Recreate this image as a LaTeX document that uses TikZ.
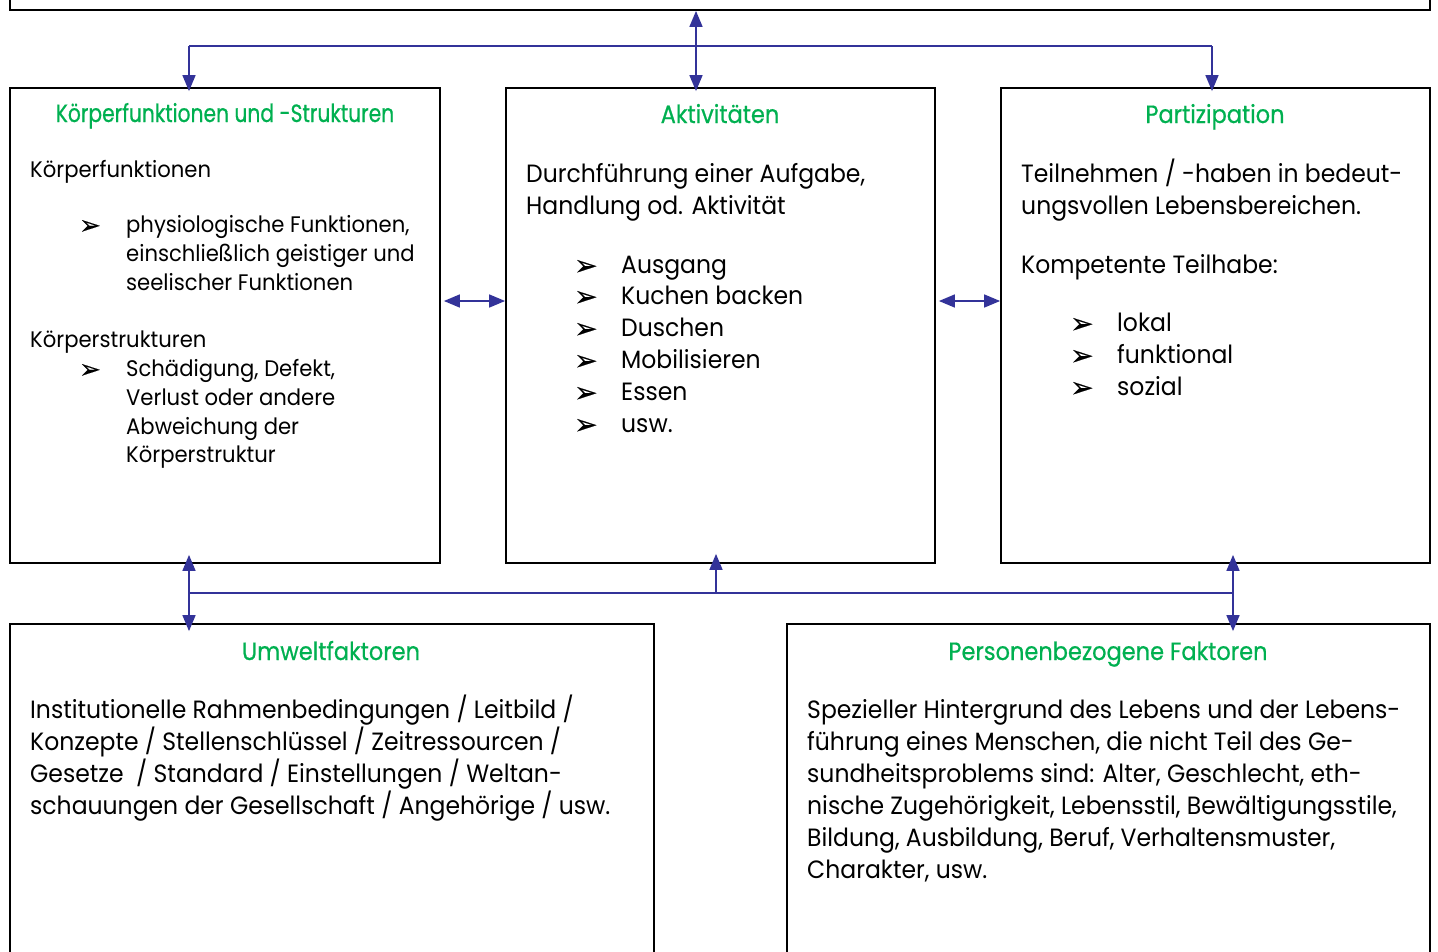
\documentclass[tikz,border=0pt]{standalone}
\usepackage{fontspec}
\setmainfont[FakeStretch=0.94]{Poppins}
\newfontfamily\ttlfont[FakeStretch=0.90,FakeBold=0.6]{Poppins}
\newfontfamily\ttlfontc[FakeStretch=0.81,FakeBold=0.6]{Poppins}
\newfontfamily\bulfont[FakeBold=0.5]{DejaVu Sans}
\usetikzlibrary{arrows.meta}
\definecolor{ttl}{RGB}{0,176,80}
\definecolor{conn}{RGB}{51,51,153}
\begin{document}
\begin{tikzpicture}[x=1pt,y=-1pt,
  box/.style={draw=black,line width=1.8pt,inner sep=0pt,fill=none},
  ttlt/.style={anchor=base,inner sep=0pt,text=ttl,font=\ttlfont\fontsize{25}{30}\selectfont},
  bodyL/.style={anchor=base west,inner sep=0pt,font=\fontsize{22.5}{27}\selectfont},
  bodyM/.style={anchor=base west,inner sep=0pt,font=\fontsize{25}{30}\selectfont},
  bulL/.style={anchor=base west,inner sep=0pt,font=\bulfont\fontsize{26}{30}\selectfont},
  bulM/.style={anchor=base west,inner sep=0pt,font=\bulfont\fontsize{28}{32}\selectfont},
  link/.style={draw=conn,line width=1.6pt},
  tip/.style={-{Triangle[length=16pt,width=13pt]}},
  tips/.style={{Triangle[length=16pt,width=13pt]}-{Triangle[length=16pt,width=13pt]}}]
\useasboundingbox (0,0) rectangle (1438,951);
\begin{scope}
\clip (0,0) rectangle (1438,951);
% boxes
\node[box,minimum width=1420pt,minimum height=40pt] (top) at (720,-10) {};
\node[box,minimum width=430pt,minimum height=475pt] (kb) at (225,325.5) {};
\node[box,minimum width=429pt,minimum height=475pt] (akt) at (720.5,325.5) {};
\node[box,minimum width=429pt,minimum height=475pt] (part) at (1215.5,325.5) {};
\node[box,minimum width=644pt,minimum height=356pt] (umw) at (332,802) {};
\node[box,minimum width=643pt,minimum height=356pt] (pers) at (1108.5,802) {};
\end{scope}
% left box text
\node[ttlt,font=\ttlfontc\fontsize{25}{30}\selectfont] (t1) at (225,122) {Körperfunktionen und -Strukturen};
\node[bodyL] (l1) at (30,177) {Körperfunktionen};
\node[bulL] (lb1) at (79,234) {➢};
\node[bodyL] (l2) at (126,232) {physiologische Funktionen,};
\node[bodyL] (l3) at (126,261) {einschließlich geistiger und};
\node[bodyL] (l4) at (126,290) {seelischer Funktionen};
\node[bodyL] (l5) at (30,347) {Körperstrukturen};
\node[bulL] (lb2) at (79,378) {➢};
\node[bodyL] (l6) at (126,376) {Schädigung, Defekt,};
\node[bodyL] (l7) at (126,405) {Verlust oder andere};
\node[bodyL] (l8) at (126,434) {Abweichung der};
\node[bodyL] (l9) at (126,462) {Körperstruktur};
% middle box text
\node[ttlt] (t2) at (720,123) {Aktivitäten};
\node[bodyM] (m1) at (526,182) {Durchführung einer Aufgabe,};
\node[bodyM] (m2) at (526,214) {Handlung od. Aktivität};
\foreach \y/\t [count=\i] in {273/Ausgang,304/Kuchen backen,336/Duschen,368/Mobilisieren,400/Essen,432/usw.}{
  \node[bulM] (mb\i) at (574,\y+2) {➢};
  \node[bodyM] (mi\i) at (621,\y) {\t};
}
% right box text
\node[ttlt] (t3) at (1215,123) {Partizipation};
\node[bodyM] (r1) at (1021,182) {Teilnehmen / -haben in bedeut-};
\node[bodyM] (r2) at (1021,214) {ungsvollen Lebensbereichen.};
\node[bodyM] (r3) at (1021,273) {Kompetente Teilhabe:};
\foreach \y/\t [count=\i] in {331/lokal,363/funktional,395/sozial}{
  \node[bulM] (rb\i) at (1070,\y+2) {➢};
  \node[bodyM] (ri\i) at (1117,\y) {\t};
}
% bottom left
\node[ttlt] (t4) at (331,660) {Umweltfaktoren};
\node[bodyM] (u1) at (30,718) {Institutionelle Rahmenbedingungen / Leitbild /};
\node[bodyM] (u2) at (30,750) {Konzepte / Stellenschlüssel / Zeitressourcen /};
\node[bodyM] (u3) at (30,782) {Gesetze \ / Standard / Einstellungen / Weltan-};
\node[bodyM] (u4) at (30,814) {schauungen der Gesellschaft / Angehörige / usw.};
% bottom right
\node[ttlt] (t5) at (1108,660) {Personenbezogene Faktoren};
\node[bodyM] (p1) at (807,718) {Spezieller Hintergrund des Lebens und der Lebens-};
\node[bodyM] (p2) at (807,750) {führung eines Menschen, die nicht Teil des Ge-};
\node[bodyM] (p3) at (807,782) {sundheitsproblems sind: Alter, Geschlecht, eth-};
\node[bodyM] (p4) at (807,814) {nische Zugehörigkeit, Lebensstil, Bewältigungsstile,};
\node[bodyM] (p5) at (807,846) {Bildung, Ausbildung, Beruf, Verhaltensmuster,};
\node[bodyM] (p6) at (807,878) {Charakter, usw.};
% connectors
\coordinate (hL) at (189,46);
\coordinate (hM) at (696,46);
\coordinate (hR) at (1212,46);
\coordinate (ya) at (0,301);
\coordinate (bL) at (189,593);
\coordinate (bM) at (716,593);
\coordinate (bR) at (1233,593);
\draw[link] (hL) -- (hR);
\draw[link,tips,shorten >=-4pt] (top.south -| hM) -- (akt.north -| hM);
\draw[link,tip,shorten >=-4pt] (hL) -- (kb.north -| hL);
\draw[link,tip,shorten >=-4pt] (hR) -- (part.north -| hR);
\draw[link,tips,shorten <=3pt] (kb.east |- ya) -- (akt.west |- ya);
\draw[link,tips,shorten <=3pt] (akt.east |- ya) -- (part.west |- ya);
\draw[link] (bL) -- (bR);
\draw[link,tips,shorten <=-9pt,shorten >=-8pt] (kb.south -| bL) -- (umw.north -| bL);
\draw[link,tip,shorten >=-10pt] (bM) -- (akt.south -| bM);
\draw[link,tips,shorten <=-9pt,shorten >=-8pt] (part.south -| bR) -- (pers.north -| bR);
\end{tikzpicture}
\end{document}
